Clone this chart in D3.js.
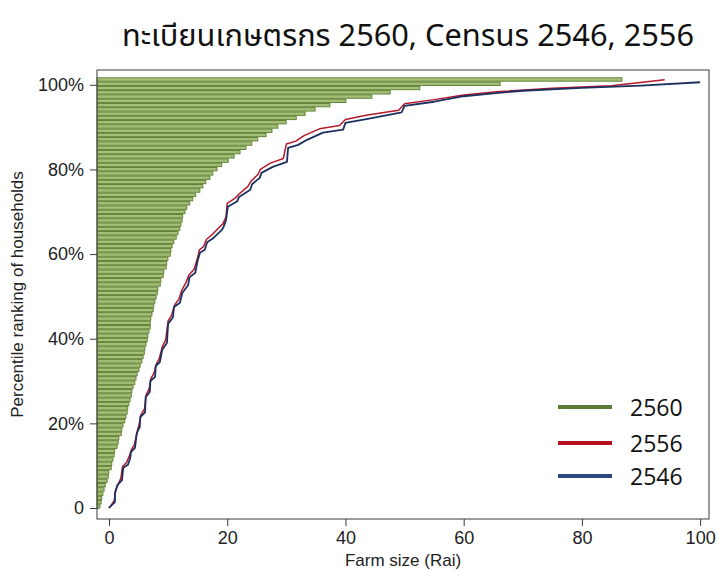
<!DOCTYPE html>
<html>
<head>
<meta charset="utf-8">
<script src="https://cdn.jsdelivr.net/npm/d3@7"></script>
<style>
  html, body { margin: 0; padding: 0; background: #fff; }
  svg { display: block; }
</style>
</head>
<body>
<svg id="chart" width="717" height="570"></svg>
<script>
// ---------------- DATA ----------------
const titleText = "ทะเบียนเกษตรกร 2560, Census 2546, 2556";
const xLabel = "Farm size (Rai)";
const yLabel = "Percentile ranking of households";
const xTicks = [0, 20, 40, 60, 80, 100];
const yTicks = [0, 20, 40, 60, 80, 100];
const yTickLabels = ["0", "20%", "40%", "60%", "80%", "100%"];
const legendLabels = ["2560", "2556", "2546"];

// 2560 registry: farm size (rai) at each percentile 0..100 (bars)
const bars2560 = [
  0.5, 0.7, 0.8, 1.0, 1.2, 1.4, 1.7, 1.9, 2.0, 2.4,
  2.5, 2.7, 2.9, 3.0, 3.4, 3.6, 3.7, 4.1, 4.2, 4.4,
  4.7, 4.9, 5.1, 5.2, 5.4, 5.6, 5.8, 5.9, 6.1, 6.4,
  6.6, 6.8, 7.1, 7.3, 7.6, 7.8, 8.0, 8.1, 8.3, 8.5,
  8.6, 8.8, 9.0, 9.0, 9.1, 9.3, 9.5, 9.6, 9.8, 10.0,
  10.2, 10.3, 10.7, 10.8, 11.2, 11.3, 11.7, 11.8, 12.0, 12.4,
  12.5, 12.7, 13.0, 13.4, 13.7, 14.0, 14.2, 14.4, 14.5, 14.9,
  15.2, 15.7, 16.2, 16.7, 17.4, 17.9, 18.4, 19.1, 19.6, 20.3,
  21.1, 22.2, 23.2, 24.2, 25.2, 26.2, 27.2, 28.6, 29.6, 30.6,
  32.0, 33.7, 35.2, 36.9, 39.4, 42.1, 46.5, 49.6, 54.6, 68.2,
  88.8
];

// Census 2556: farm size (rai) and percentile
const size2556 = [0.0, 0.3, 0.9, 1.1, 1.6, 2.0, 2.3, 3.0, 3.5, 3.8, 4.3, 4.8, 5.1, 5.4, 6.0, 6.3, 6.8, 7.1, 7.6, 8.0,
  8.5, 9.0, 9.6, 10.0, 10.6, 11.1, 11.8, 12.3, 13.0, 13.5, 14.4, 15.0, 15.3, 16.0, 16.5, 17.3, 18.8, 19.3, 19.8, 20.0,
  21.4, 22.0, 23.5, 24.0, 25.2, 25.6, 27.3, 29.5, 30.0, 31.6, 33.0, 35.6, 39.0, 40.0, 43.5, 49.0, 50.0, 55.0, 60.0, 66.0,
  75.0, 85.0, 94.0];
const pct2556 = [0.0, 0.5, 1.8, 4.0, 5.8, 7.0, 9.8, 10.8, 12.5, 13.8, 15.0, 18.2, 19.8, 22.0, 23.4, 26.8, 28.2, 30.6, 31.8, 34.0,
  35.3, 38.0, 39.8, 44.2, 45.6, 48.0, 49.3, 51.4, 53.2, 55.0, 56.4, 59.2, 61.0, 61.8, 63.5, 64.4, 66.5, 67.2, 68.8, 72.0,
  73.3, 74.2, 76.0, 77.2, 78.8, 80.0, 81.5, 82.6, 86.0, 86.7, 88.0, 89.6, 90.4, 91.8, 92.8, 94.0, 95.5, 96.5, 97.6, 98.4,
  99.2, 99.8, 101.2];

// Census 2546: farm size (rai) and percentile
const size2546 = [0.0, 0.2, 1.0, 1.0, 1.4, 2.2, 2.4, 3.2, 3.6, 3.7, 4.4, 4.7, 5.2, 5.3, 6.1, 6.2, 6.9, 7.0, 7.8, 7.9,
  8.6, 9.0, 9.8, 10.0, 10.8, 11.0, 12.0, 12.4, 13.4, 13.6, 14.6, 15.0, 15.4, 16.2, 16.6, 17.5, 19.1, 19.4, 19.8, 20.1,
  21.7, 22.0, 23.9, 24.2, 25.5, 25.8, 27.7, 30.1, 30.3, 32.0, 33.5, 36.2, 39.6, 40.0, 44.0, 49.5, 50.0, 55.0, 60.0, 65.0,
  70.0, 80.0, 90.0, 100.0];
const pct2546 = [0.0, 0.3, 1.4, 3.5, 5.4, 6.6, 9.5, 10.2, 11.8, 13.2, 14.2, 17.7, 19.1, 21.5, 22.6, 26.2, 27.4, 30.0, 31.0, 33.5,
  34.5, 37.4, 39.0, 43.5, 45.0, 47.5, 48.5, 50.8, 52.7, 54.5, 55.6, 58.5, 60.3, 61.0, 62.8, 63.6, 65.7, 66.5, 68.0, 71.2,
  72.5, 73.5, 75.2, 76.5, 78.0, 79.2, 80.6, 81.8, 85.1, 85.8, 87.0, 88.7, 89.4, 91.0, 92.0, 93.5, 95.0, 96.0, 97.3, 98.0,
  98.6, 99.3, 99.8, 100.6];

// ---------------- LAYOUT ----------------
const svg = d3.select("#chart");
const box = { left: 97, right: 709, top: 70, bottom: 519 };

const x = d3.scaleLinear().domain([-2.03, 101.5]).range([box.left, box.right]);
const y = d3.scaleLinear().domain([-2.6, 103.5]).range([box.bottom, box.top]);
const unit = x(1) - x(0);
// bars anchored at the left edge of the plot box
const xBar = d3.scaleLinear().domain([0, 100]).range([box.left, box.left + 100 * unit]);
const yBar = d3.scaleLinear().domain([0, 100]).range([506.5, 79.5]);

const colors = { g: "#5b7b2c", gFill: "#a4c078", r: "#b3182b", b: "#1c3060" };
const legendColors = ["#5d7b36", "#b5101f", "#2d4a7e"];

// Title
svg.append("text")
  .attr("x", 122).attr("y", 46)
  .attr("textLength", 572).attr("lengthAdjust", "spacingAndGlyphs")
  .style("font-family", "'Noto Sans Thai', 'Noto Sans', 'DejaVu Sans', sans-serif")
  .style("font-size", "31px")
  .style("fill", "#111")
  .text(titleText);

// Bars (2560)
const barH = 3.4;
svg.append("g").selectAll("rect")
  .data(bars2560)
  .join("rect")
  .attr("x", xBar(0))
  .attr("y", (d, i) => yBar(i) - barH / 2)
  .attr("width", d => xBar(d) - xBar(0))
  .attr("height", barH)
  .attr("fill", colors.gFill)
  .attr("stroke", colors.g)
  .attr("stroke-width", 0.9);

// Lines
const line = d3.line().x(d => x(d[0])).y(d => y(d[1]));
const pts2556 = size2556.map((s, i) => [s, pct2556[i]]);
const pts2546 = size2546.map((s, i) => [s, pct2546[i]]);

svg.append("path").datum(pts2556)
  .attr("d", line).attr("fill", "none")
  .attr("stroke", colors.r).attr("stroke-width", 1.5).attr("stroke-linejoin", "round");
svg.append("path").datum(pts2546)
  .attr("d", line).attr("fill", "none")
  .attr("stroke", colors.b).attr("stroke-width", 1.8).attr("stroke-linejoin", "round");

// Frame
svg.append("rect")
  .attr("x", box.left).attr("y", box.top)
  .attr("width", box.right - box.left).attr("height", box.bottom - box.top)
  .attr("fill", "none").attr("stroke", "#3a3a3a").attr("stroke-width", 1);

// Axes
const font = "'Liberation Sans', Arial, Helvetica, sans-serif";
const xAxis = d3.axisBottom(x).tickValues(xTicks).tickSize(7).tickPadding(5).tickFormat(d3.format("d"));
const gx = svg.append("g").attr("transform", `translate(0,${box.bottom})`).call(xAxis);
gx.select(".domain").remove();
gx.selectAll("line").attr("stroke", "#3a3a3a");
gx.selectAll("text").style("font-family", font).style("font-size", "18px").style("fill", "#222");

const yAxis = d3.axisLeft(y).tickValues(yTicks).tickSize(7).tickPadding(6)
  .tickFormat((d, i) => yTickLabels[i]);
const gy = svg.append("g").attr("transform", `translate(${box.left},0)`).call(yAxis);
gy.select(".domain").remove();
gy.selectAll("line").attr("stroke", "#3a3a3a");
gy.selectAll("text").style("font-family", font).style("font-size", "18px").style("fill", "#222");

// Axis titles
svg.append("text")
  .attr("x", (box.left + box.right) / 2).attr("y", 566)
  .attr("text-anchor", "middle")
  .style("font-family", font).style("font-size", "17px").style("fill", "#222")
  .text(xLabel);
svg.append("text")
  .attr("transform", `translate(23,${(box.top + box.bottom) / 2}) rotate(-90)`)
  .attr("text-anchor", "middle")
  .style("font-family", font).style("font-size", "17px").style("fill", "#222")
  .text(yLabel);

// Legend
const legendY = [407, 443, 476];
const lg = svg.append("g");
legendLabels.forEach((lab, i) => {
  lg.append("line")
    .attr("x1", 558).attr("x2", 612)
    .attr("y1", legendY[i]).attr("y2", legendY[i])
    .attr("stroke", legendColors[i]).attr("stroke-width", 4);
  lg.append("text")
    .attr("x", 630).attr("y", legendY[i] + 9)
    .style("font-family", "'Open Sans', 'Lato', sans-serif")
    .style("font-size", "23px").style("fill", "#111")
    .text(lab);
});
</script>
</body>
</html>
